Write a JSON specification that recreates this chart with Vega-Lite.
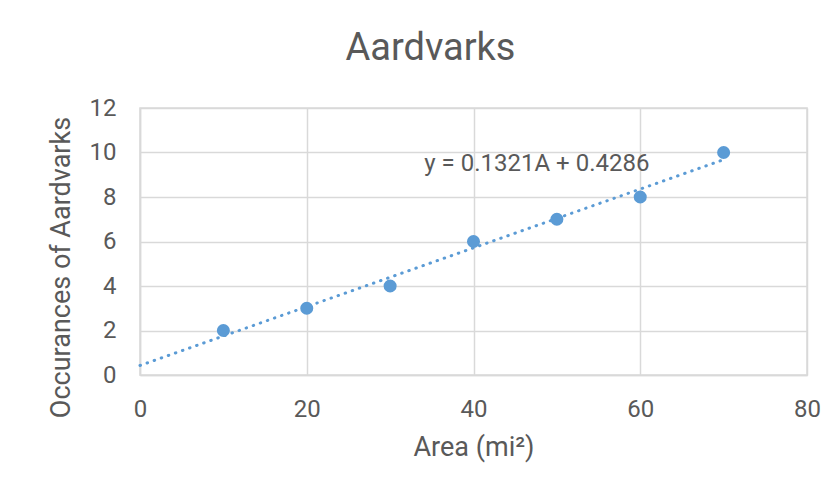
{
  "$schema": "https://vega.github.io/schema/vega-lite/v6.json",
  "width": 667,
  "height": 267,
  "autosize": "none",
  "padding": {"left": 140, "top": 108, "right": 32, "bottom": 121},
  "background": "white",
  "config": {
    "font": "Roboto",
    "view": {"stroke": "#d9d9d9", "strokeWidth": 1.5},
    "axis": {
      "labelFont": "Roboto",
      "labelFontSize": 24,
      "labelColor": "#595959",
      "labelFlush": false,
      "titleFont": "Roboto",
      "titleFontSize": 27,
      "titleFontWeight": "normal",
      "titleColor": "#595959",
      "gridColor": "#d9d9d9",
      "gridWidth": 1.5,
      "domainColor": "#d9d9d9",
      "domainWidth": 1.5,
      "ticks": false
    }
  },
  "title": {
    "text": "Aardvarks",
    "font": "Roboto",
    "fontSize": 38,
    "fontWeight": "normal",
    "color": "#595959",
    "anchor": "middle",
    "dx": -43,
    "offset": 28
  },
  "data": {
    "values": [
      {"area": 10, "count": 2},
      {"area": 20, "count": 3},
      {"area": 30, "count": 4},
      {"area": 40, "count": 6},
      {"area": 50, "count": 7},
      {"area": 60, "count": 8},
      {"area": 70, "count": 10}
    ]
  },
  "layer": [
    {
      "transform": [
        {"regression": "count", "on": "area", "method": "linear", "extent": [0, 70]}
      ],
      "mark": {"type": "line", "color": "#5b9bd5", "strokeWidth": 3, "strokeDash": [0.5, 7], "strokeCap": "round"},
      "encoding": {
        "x": {"field": "area", "type": "quantitative"},
        "y": {"field": "count", "type": "quantitative"}
      }
    },
    {
      "mark": {"type": "circle", "color": "#5b9bd5", "opacity": 1, "size": 170},
      "encoding": {
        "x": {
          "field": "area",
          "type": "quantitative",
          "scale": {"domain": [0, 80], "nice": false},
          "axis": {"values": [0, 20, 40, 60, 80], "title": "Area (mi²)", "labelPadding": 22, "titlePadding": 13}
        },
        "y": {
          "field": "count",
          "type": "quantitative",
          "scale": {"domain": [0, 12], "nice": false},
          "axis": {"values": [0, 2, 4, 6, 8, 10, 12], "title": "Occurances of Aardvarks", "labelPadding": 24, "titlePadding": 14, "titleY": 159}
        }
      }
    },
    {
      "data": {"values": [{"area": 47.6, "count": 9.5, "label": "y = 0.1321A + 0.4286"}]},
      "mark": {"type": "text", "font": "Roboto", "fontSize": 24, "color": "#595959", "align": "center", "baseline": "middle"},
      "encoding": {
        "x": {"field": "area", "type": "quantitative"},
        "y": {"field": "count", "type": "quantitative"},
        "text": {"field": "label"}
      }
    }
  ]
}
